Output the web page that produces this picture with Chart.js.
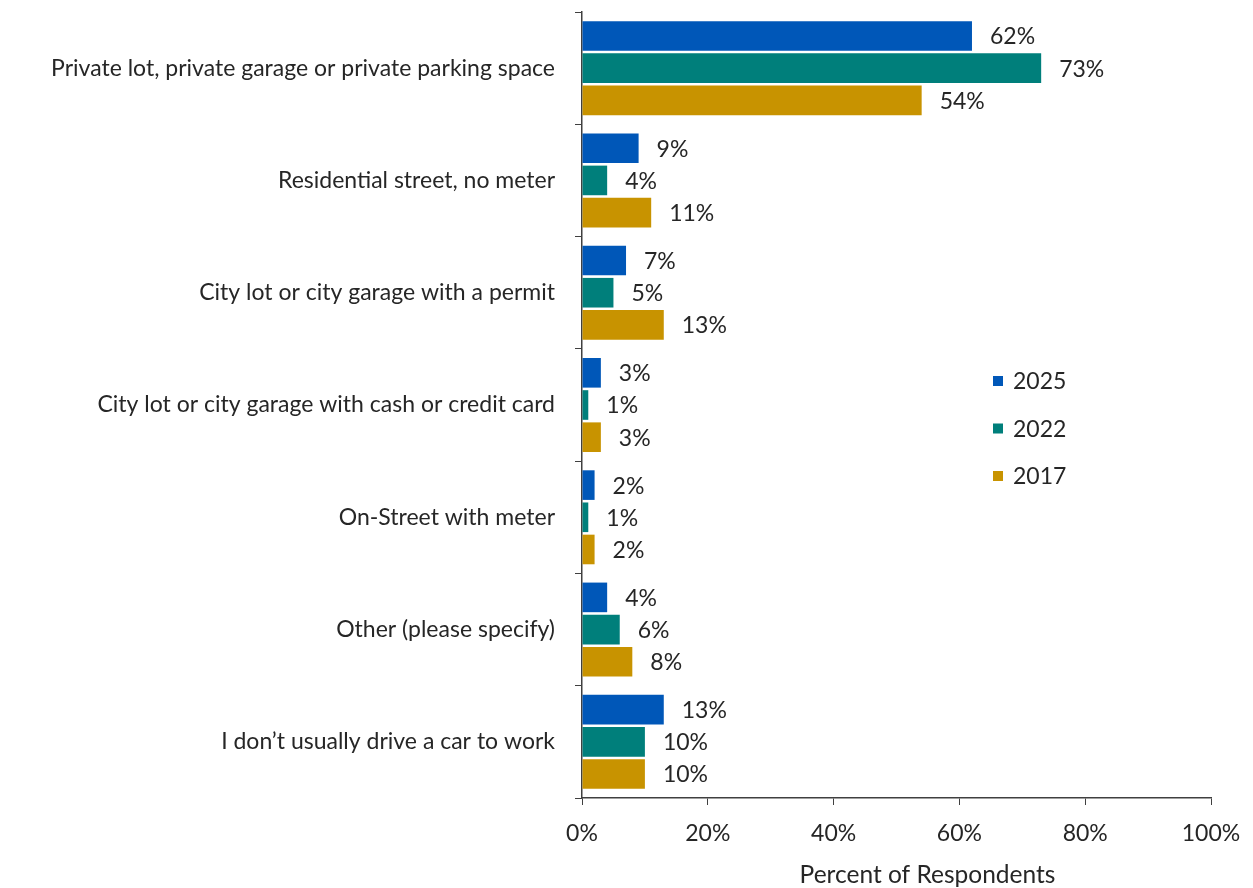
<!DOCTYPE html>
<html>
<head>
<meta charset="utf-8">
<script src="https://cdn.jsdelivr.net/npm/chart.js@4"></script>
<style>
  html, body { margin: 0; padding: 0; background: #fff; }
  #wrap { width: 1253px; height: 888px; }
</style>
</head>
<body>
<div id="wrap"><canvas id="chart"></canvas></div>
<script>
const categories = [
  "Private lot, private garage or private parking space",
  "Residential street, no meter",
  "City lot or city garage with a permit",
  "City lot or city garage with cash or credit card",
  "On-Street with meter",
  "Other (please specify)",
  "I don\u2019t usually drive a car to work"
];
const seriesNames = ["2025", "2022", "2017"];
const values2025 = [62, 9, 7, 3, 2, 4, 13];
const values2022 = [73, 4, 5, 1, 1, 6, 10];
const values2017 = [54, 11, 13, 3, 2, 8, 10];
const xTicks = [0, 20, 40, 60, 80, 100];
const xTitle = "Percent of Respondents";

const colors = ["#0057B8", "#007F7B", "#C89300"];
const textColor = "#262626";
const font = "Lato";
const fontSize = 23;

// value labels just right of each bar
const barLabels = {
  id: "barLabels",
  afterDatasetsDraw(c) {
    const ctx = c.ctx;
    ctx.save();
    ctx.font = fontSize + "px " + font;
    ctx.fillStyle = textColor;
    ctx.textAlign = "left";
    ctx.textBaseline = "middle";
    c.data.datasets.forEach((ds, i) => {
      c.getDatasetMeta(i).data.forEach((bar, j) => {
        ctx.fillText(ds.data[j] + "%", bar.x + 18, bar.y + 1);
      });
    });
    ctx.restore();
  }
};

// legend sitting inside the plot, right side, plus the x title (sits a bit right of centre)
const extras = {
  id: "extras",
  afterDraw(c) {
    const ctx = c.ctx;
    ctx.save();
    ctx.font = fontSize + "px " + font;
    ctx.textBaseline = "middle";
    c.data.datasets.forEach((ds, i) => {
      const y = 381 + i * 47.5;
      ctx.fillStyle = ds.backgroundColor;
      ctx.fillRect(993, y - 5, 10, 10);
      ctx.fillStyle = textColor;
      ctx.fillText(ds.label, 1013, y + 1);
    });
    const xs = c.scales.x;
    ctx.font = "24.5px " + font;
    ctx.textAlign = "center";
    ctx.fillText(xTitle, (xs.left + xs.right) / 2 + 31, 875);
    ctx.restore();
  }
};

chart = new Chart(document.getElementById("chart"), {
  type: "bar",
  data: {
    labels: categories,
    datasets: [
      { label: seriesNames[0], data: values2025, backgroundColor: colors[0] },
      { label: seriesNames[1], data: values2022, backgroundColor: colors[1] },
      { label: seriesNames[2], data: values2017, backgroundColor: colors[2] }
    ]
  },
  options: {
    indexAxis: "y",
    responsive: true,
    maintainAspectRatio: false,
    animation: false,
    devicePixelRatio: 1,
    layout: { padding: { top: 12, right: 42, bottom: 0, left: 0 } },
    datasets: { bar: { categoryPercentage: 0.86, barPercentage: 0.92 } },
    plugins: {
      legend: { display: false },
      tooltip: { enabled: false }
    },
    scales: {
      x: {
        min: 0,
        max: 100,
        afterBuildTicks: s => { s.ticks = xTicks.map(v => ({ value: v })); },
        afterFit: s => { s.height = 90; s.paddingLeft = 0; s.paddingRight = 0; },
        grid: { drawOnChartArea: false, drawTicks: true, tickLength: 7, color: "#404040" },
        border: { color: "#404040", width: 1.5 },
        ticks: {
          color: textColor,
          font: { family: font, size: fontSize },
          padding: 15,
          maxRotation: 0,
          callback: v => v + "%"
        }
      },
      y: {
        afterFit: s => { s.width = 582; s.paddingTop = 0; s.paddingBottom = 0; },
        grid: { drawOnChartArea: false, drawTicks: true, tickLength: 7, color: "#404040", offset: true },
        border: { color: "#404040", width: 1.5 },
        ticks: {
          color: textColor,
          font: { family: font, size: fontSize },
          padding: 20,
          autoSkip: false
        }
      }
    }
  },
  plugins: [barLabels, extras]
});
</script>
</body>
</html>
